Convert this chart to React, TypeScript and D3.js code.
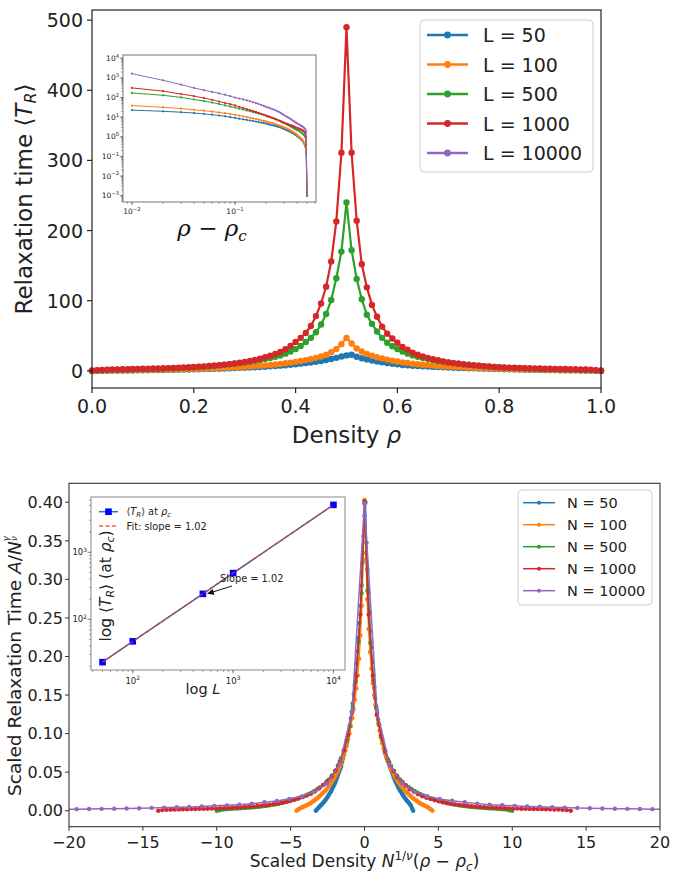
import React from 'react';
import * as d3 from 'd3';

// ---------- data ----------
const RHO_C = 0.5;
const INV_NU = 0.482;
const GAMMA_NU = 1.02;
const A_CONST = 0.94;
const RHO = d3.range(0, 101).map((i) => i / 100);

const SIZES = [50, 100, 500, 1000, 10000];
const COLORS = ['#1f77b4', '#ff7f0e', '#2ca02c', '#d62728', '#9467bd'];
const TOP_LABELS = ['L = 50', 'L = 100', 'L = 500', 'L = 1000', 'L = 10000'];
const BOT_LABELS = ['N = 50', 'N = 100', 'N = 500', 'N = 1000', 'N = 10000'];

const TR_L50 = [0, 0.08, 0.16, 0.24, 0.32, 0.4, 0.47, 0.55, 0.63, 0.72,
  0.82, 0.92, 1.02, 1.14, 1.26, 1.38, 1.5, 1.65, 1.8, 1.95,
  2.1, 2.3, 2.5, 2.7, 2.9, 3.1, 3.3, 3.6, 3.9, 4.2,
  4.5, 4.8, 5.1, 5.5, 5.9, 6.4, 6.9, 7.4, 8.0, 8.7,
  9.4, 10.2, 11, 11.9, 12.9, 14, 15.3, 16.8, 18.5, 20.5,
  22,
  23, 20, 18, 16.3, 14.8, 13.4, 12.2, 11.1, 10.1, 9.2,
  8.4, 7.8, 7.3, 6.8, 6.4, 6.0, 5.6, 5.3, 5.0, 4.7,
  4.4, 4.1, 3.9, 3.7, 3.5, 3.3, 3.1, 2.9, 2.7, 2.5,
  2.3, 2.15, 2.0, 1.85, 1.7, 1.58, 1.46, 1.34, 1.22, 1.1,
  1.0, 0.9, 0.8, 0.72, 0.64, 0.55, 0.45, 0.35, 0.15, 0];

const TR_L100 = [0, 0.15, 0.3, 0.4, 0.5, 0.6, 0.7, 0.8, 0.9, 1.0,
  1.1, 1.25, 1.4, 1.55, 1.7, 1.85, 2.0, 2.2, 2.4, 2.6,
  2.8, 3.0, 3.2, 3.5, 3.8, 4.1, 4.4, 4.7, 5.0, 5.4,
  5.8, 6.2, 6.7, 7.2, 7.8, 8.4, 9.1, 9.9, 10.8, 11.7,
  12.8, 14, 15.3, 16.8, 18.5, 20.5, 23, 26.5, 31, 38,
  47,
  39, 32, 27.5, 24, 21.5, 19.3, 17.5, 16, 14.5, 13.2,
  12.1, 11.1, 10.2, 9.4, 8.7, 8.1, 7.5, 7.0, 6.5, 6.1,
  5.7, 5.3, 5.0, 4.6, 4.3, 4.0, 3.7, 3.5, 3.2, 3.0,
  2.8, 2.6, 2.4, 2.2, 2.0, 1.85, 1.7, 1.55, 1.4, 1.25,
  1.1, 1.0, 0.9, 0.8, 0.7, 0.6, 0.45, 0.3, 0.2, 0];

const TR_L500 = [0, 0.4, 0.9, 1.2, 1.35, 1.5, 1.65, 1.8, 1.95, 2.1,
  2.25, 2.4, 2.6, 2.8, 3.0, 3.3, 3.6, 3.9, 4.2, 4.6,
  5.0, 5.5, 6.0, 6.6, 7.2, 7.9, 8.6, 9.4, 10.2, 11,
  12, 13, 14.1, 15.4, 16.8, 18.3, 20, 22, 24.5, 27.5,
  31, 35.5, 41, 47, 55, 66, 81, 101, 132, 170,
  240,
  172, 131, 102, 80, 67, 56, 47, 40, 35, 31,
  27.5, 24.5, 22, 20, 18.3, 16.8, 15.4, 14.1, 13, 12,
  11, 10.2, 9.4, 8.6, 7.9, 7.2, 6.6, 6.0, 5.5, 5.0,
  4.6, 4.2, 3.9, 3.6, 3.3, 3.0, 2.8, 2.6, 2.4, 2.25,
  2.1, 1.95, 1.8, 1.65, 1.5, 1.35, 1.2, 1.0, 0.4, 0];

const TR_L1000 = [0, 1.0, 1.4, 1.7, 1.9, 2.1, 2.3, 2.4, 2.6, 2.7,
  2.9, 3.0, 3.2, 3.4, 3.7, 3.9, 4.1, 4.4, 4.8, 5.1,
  5.5, 5.9, 6.3, 6.8, 7.4, 8.1, 8.8, 9.6, 10.5, 11.5,
  12.7, 14, 15.6, 17.3, 19.3, 21.5, 24, 27, 31, 35.5,
  41, 47, 54, 64, 78, 96, 120, 156, 213, 311,
  490,
  311, 214, 152, 119, 94, 77, 63, 53, 46, 40,
  34, 30, 26, 23, 20.5, 18.5, 16.5, 15, 13.5, 12,
  11, 10, 9.2, 8.5, 7.8, 7.2, 6.6, 6.1, 5.6, 5.2,
  4.9, 4.6, 4.3, 4.0, 3.8, 3.6, 3.4, 3.2, 3.0, 2.9,
  2.7, 2.6, 2.5, 2.3, 2.2, 2.0, 1.8, 1.5, 1.0, 0];

const TR_L10000 = [0, 2.0, 2.5, 2.8, 3.1, 3.4, 3.6, 3.9, 4.2, 4.5,
  4.9, 5.3, 5.8, 6.4, 7.0, 7.8, 8.6, 9.5, 10.5, 11.5,
  12.6, 14.3, 16, 18, 20, 22, 24, 26, 28.5, 31,
  34, 38, 42, 47, 52, 58, 64, 72, 81, 89,
  101, 117, 141, 163, 197, 238, 315, 450, 770, 1640,
  5100,
  1660, 760, 457, 310, 240, 195, 165, 140, 118, 100,
  90, 81, 72, 65, 58, 52, 47, 42, 38, 34,
  31, 28.5, 26, 24, 22, 20, 18, 16, 14.3, 12.6,
  11.5, 10.5, 9.5, 8.6, 7.8, 7.0, 6.4, 5.8, 5.3, 4.9,
  4.5, 4.2, 3.9, 3.6, 3.4, 3.1, 2.8, 2.5, 2.0, 0];

const SERIES = [TR_L50, TR_L100, TR_L500, TR_L1000, TR_L10000];

const TOP_X_TICKS = [0, 0.2, 0.4, 0.6, 0.8, 1.0];
const TOP_Y_TICKS = [0, 100, 200, 300, 400, 500];
const BOT_X_TICKS = [-20, -15, -10, -5, 0, 5, 10, 15, 20];
const BOT_Y_TICKS = [0, 0.05, 0.1, 0.15, 0.2, 0.25, 0.3, 0.35, 0.4];
const SLOPE_TEXT = 'Slope = 1.02';
const FIT_TEXT = 'Fit: slope = 1.02';

// ---------- helpers ----------
const FONT = 'DejaVu Sans, Verdana, sans-serif';
const minus = (s: string) => s.replace('-', '\u2212');

function minorLogTicks(lo: number, hi: number) {
  const out: number[] = [];
  for (let k = Math.floor(Math.log10(lo)); k <= Math.ceil(Math.log10(hi)); k++) {
    for (let m = 1; m <= 9; m++) {
      const v = m * Math.pow(10, k);
      if (v >= lo && v <= hi) out.push(v);
    }
  }
  return out;
}
function majorLogTicks(lo: number, hi: number) {
  const out: number[] = [];
  for (let k = Math.ceil(Math.log10(lo) - 1e-9); k <= Math.floor(Math.log10(hi) + 1e-9); k++) out.push(k);
  return out;
}
function Pow10({ x, y, k, size, anchor }: any) {
  return (
    <text x={x} y={y} fontSize={size} textAnchor={anchor} fontFamily={FONT} fill="#222">
      10<tspan dy={-size * 0.42} fontSize={size * 0.7}>{minus(String(k))}</tspan>
    </text>
  );
}

export default function App() {
  const W = 683, H = 882;

  // ---- top main ----
  const tL = 92, tR = 601, tT = 10, tB = 388;
  const xT = d3.scaleLinear().domain([0, 1]).range([tL, tR]);
  const yT = d3.scaleLinear().domain([-24.5, 514.5]).range([tB, tT]);
  const topLine = d3.line<number>().x((d, i) => xT(RHO[i])).y((d) => yT(d));

  // ---- top inset ----
  const iL = 123, iR = 316, iT = 55, iB = 202;
  const xI = d3.scaleLog().domain([Math.pow(10, -2.087), Math.pow(10, -0.214)]).range([iL, iR]);
  const yI = d3.scaleLog().domain([Math.pow(10, -3.32), Math.pow(10, 4.17)]).range([iB, iT]);
  const insetData = SERIES.map((s) =>
    RHO.map((r, i) => [r - RHO_C, s[i]] as [number, number])
      .filter((d) => d[0] > 0.005)
      .map((d) => [d[0], Math.max(d[1], 1e-3)] as [number, number])
  );
  const insetLine = d3.line<[number, number]>().x((d) => xI(d[0])).y((d) => yI(d[1]));

  // ---- bottom main ----
  const bL = 69, bR = 660, bT = 483.3, bB = 826.7;
  const xB = d3.scaleLinear().domain([-20, 20]).range([bL, bR]);
  const yB = d3.scaleLinear().domain([-0.0207, 0.4246]).range([bB, bT]);
  const botData = SERIES.map((s, k) =>
    RHO.map((r, i) => [
      Math.pow(SIZES[k], INV_NU) * (r - RHO_C),
      (A_CONST * s[i]) / Math.pow(SIZES[k], GAMMA_NU),
    ] as [number, number])
  );
  const botLine = d3.line<[number, number]>().x((d) => xB(d[0])).y((d) => yB(d[1]));

  // ---- bottom inset ----
  const jL = 91, jR = 345, jT = 497, jB = 670;
  const peaks = SERIES.map((s) => d3.max(s) as number);
  const lx = SIZES.map((v) => Math.log10(v));
  const ly = peaks.map((v) => Math.log10(v));
  const lxSpan = d3.max(lx)! - d3.min(lx)!;
  const lySpan = d3.max(ly)! - d3.min(ly)!;
  const xJ = d3.scaleLog()
    .domain([Math.pow(10, d3.min(lx)! - 0.05 * lxSpan), Math.pow(10, d3.max(lx)! + 0.05 * lxSpan)])
    .range([jL, jR]);
  const yJ = d3.scaleLog()
    .domain([Math.pow(10, d3.min(ly)! - 0.05 * lySpan), Math.pow(10, d3.max(ly)! + 0.05 * lySpan)])
    .range([jB, jT]);
  const mx = d3.mean(lx)!, my = d3.mean(ly)!;
  const slope = d3.sum(lx.map((v, i) => (v - mx) * (ly[i] - my))) / d3.sum(lx.map((v) => (v - mx) ** 2));
  const icpt = my - slope * mx;
  const fitPts = [SIZES[0], SIZES[SIZES.length - 1]].map((L) => [L, Math.pow(10, icpt + slope * Math.log10(L))]);
  const arrowTip = [xJ(SIZES[2]) + 4, yJ(peaks[2])];
  const arrowFrom = [232, 586];
  const ang = Math.atan2(arrowTip[1] - arrowFrom[1], arrowTip[0] - arrowFrom[0]);
  const ah = 7, aw = 3;
  const headPts = [
    arrowTip,
    [arrowTip[0] - ah * Math.cos(ang) + aw * Math.sin(ang), arrowTip[1] - ah * Math.sin(ang) - aw * Math.cos(ang)],
    [arrowTip[0] - ah * Math.cos(ang) - aw * Math.sin(ang), arrowTip[1] - ah * Math.sin(ang) + aw * Math.cos(ang)],
  ];

  const axisCol = '#222';

  return (
    <svg width={W} height={H} style={{ position: 'absolute', left: 0, top: 0, background: '#fff' }} fontFamily={FONT}>
      <rect x={0} y={0} width={W} height={H} fill="#fff" />
      <defs>
        <clipPath id="botclip"><rect x={bL} y={bT} width={bR - bL} height={bB - bT} /></clipPath>
        <clipPath id="insclip"><rect x={iL} y={iT} width={iR - iL} height={iB - iT} /></clipPath>
      </defs>

      {/* ================= TOP MAIN ================= */}
      {[0, 1, 2, 3].map((k) => (
        <g key={'tm' + k}>
          <path d={topLine(SERIES[k]) || ''} fill="none" stroke={COLORS[k]} strokeWidth={2.2} />
          {SERIES[k].map((v, i) => (
            <circle key={i} cx={xT(RHO[i])} cy={yT(v)} r={3.2} fill={COLORS[k]} />
          ))}
        </g>
      ))}
      <rect x={tL} y={tT} width={tR - tL} height={tB - tT} fill="none" stroke={axisCol} strokeWidth={1.2} />
      {TOP_X_TICKS.map((t) => (
        <g key={'tx' + t}>
          <line x1={xT(t)} x2={xT(t)} y1={tB} y2={tB + 5} stroke={axisCol} strokeWidth={1.2} />
          <text x={xT(t)} y={tB + 25} fontSize={19} textAnchor="middle" fill="#222">{t.toFixed(1)}</text>
        </g>
      ))}
      {TOP_Y_TICKS.map((t) => (
        <g key={'ty' + t}>
          <line x1={tL - 5} x2={tL} y1={yT(t)} y2={yT(t)} stroke={axisCol} strokeWidth={1.2} />
          <text x={tL - 9} y={yT(t) + 7} fontSize={19} textAnchor="end" fill="#222">{t}</text>
        </g>
      ))}
      <text x={(tL + tR) / 2} y={443} fontSize={23} textAnchor="middle" fill="#222">
        Density <tspan fontStyle="italic">ρ</tspan>
      </text>
      <text transform={`translate(32,${(tT + tB) / 2}) rotate(-90)`} fontSize={23} textAnchor="middle" fill="#222">
        Relaxation time ⟨<tspan fontStyle="italic">T</tspan>
        <tspan fontSize={16} dy={4} fontStyle="italic">R</tspan>
        <tspan dy={-4}>⟩</tspan>
      </text>

      {/* top legend */}
      <rect x={420} y={20} width={173} height={152} rx={4} fill="#fff" fillOpacity={0.8} stroke="#d0d0d0" strokeWidth={1} />
      {TOP_LABELS.map((lab, k) => {
        const yy = 35 + k * 29.5;
        return (
          <g key={'tl' + k}>
            <line x1={427} x2={468} y1={yy} y2={yy} stroke={COLORS[k]} strokeWidth={2.6} />
            <circle cx={447.5} cy={yy} r={3.4} fill={COLORS[k]} />
            <text x={483} y={yy + 7} fontSize={19} fill="#222">{lab}</text>
          </g>
        );
      })}

      {/* ================= TOP INSET ================= */}
      <rect x={iL} y={iT} width={iR - iL} height={iB - iT} fill="#fff" />
      <g clipPath="url(#insclip)">
        {insetData.map((pts, k) => (
          <g key={'in' + k}>
            <path d={insetLine(pts) || ''} fill="none" stroke={COLORS[k]} strokeWidth={1} />
            {pts.map((d, i) => (
              <circle key={i} cx={xI(d[0])} cy={yI(d[1])} r={1.1} fill={COLORS[k]} />
            ))}
          </g>
        ))}
      </g>
      <rect x={iL} y={iT} width={iR - iL} height={iB - iT} fill="none" stroke="#555" strokeWidth={0.8} />
      {minorLogTicks(xI.domain()[0], xI.domain()[1]).map((v, i) => (
        <line key={'ixm' + i} x1={xI(v)} x2={xI(v)} y1={iB} y2={iB + 1.8} stroke="#555" strokeWidth={0.6} />
      ))}
      {majorLogTicks(xI.domain()[0], xI.domain()[1]).map((k) => (
        <g key={'ixM' + k}>
          <line x1={xI(Math.pow(10, k))} x2={xI(Math.pow(10, k))} y1={iB} y2={iB + 3.2} stroke="#555" strokeWidth={0.7} />
          <Pow10 x={xI(Math.pow(10, k))} y={iB + 12} k={k} size={7.5} anchor="middle" />
        </g>
      ))}
      {minorLogTicks(yI.domain()[0], yI.domain()[1]).map((v, i) => (
        <line key={'iym' + i} x1={iL - 1.8} x2={iL} y1={yI(v)} y2={yI(v)} stroke="#555" strokeWidth={0.6} />
      ))}
      {majorLogTicks(yI.domain()[0], yI.domain()[1]).map((k) => (
        <g key={'iyM' + k}>
          <line x1={iL - 3.2} x2={iL} y1={yI(Math.pow(10, k))} y2={yI(Math.pow(10, k))} stroke="#555" strokeWidth={0.7} />
          <Pow10 x={iL - 4} y={yI(Math.pow(10, k)) + 2.5} k={k} size={7.5} anchor="end" />
        </g>
      ))}
      <text x={212} y={236} fontSize={23} textAnchor="middle" fontFamily="DejaVu Serif, serif" fontStyle="italic" fill="#111">
        ρ <tspan fontStyle="normal">−</tspan> ρ<tspan fontSize={15} dy={5}>c</tspan>
      </text>

      {/* ================= BOTTOM MAIN ================= */}
      <g clipPath="url(#botclip)">
        {botData.map((pts, k) => (
          <g key={'bm' + k}>
            <path d={botLine(pts) || ''} fill="none" stroke={COLORS[k]} strokeWidth={1.5} />
            {pts.map((d, i) => (
              <circle key={i} cx={xB(d[0])} cy={yB(d[1])} r={2.2} fill={COLORS[k]} />
            ))}
          </g>
        ))}
      </g>
      <rect x={bL} y={bT} width={bR - bL} height={bB - bT} fill="none" stroke="#333" strokeWidth={1.1} />
      {BOT_X_TICKS.map((t) => (
        <g key={'bx' + t}>
          <line x1={xB(t)} x2={xB(t)} y1={bB} y2={bB + 4} stroke="#333" strokeWidth={1} />
          <text x={xB(t)} y={bB + 21} fontSize={16} textAnchor="middle" fill="#222">{minus(String(t))}</text>
        </g>
      ))}
      {BOT_Y_TICKS.map((t) => (
        <g key={'by' + t}>
          <line x1={bL - 4} x2={bL} y1={yB(t)} y2={yB(t)} stroke="#333" strokeWidth={1} />
          <text x={bL - 6} y={yB(t) + 5.7} fontSize={16} textAnchor="end" fill="#222">{t.toFixed(2)}</text>
        </g>
      ))}
      <text x={(bL + bR) / 2} y={867} fontSize={17} textAnchor="middle" fill="#222">
        Scaled Density <tspan fontStyle="italic">N</tspan>
        <tspan fontSize={12} dy={-7}>1/</tspan><tspan fontSize={12} fontStyle="italic">ν</tspan>
        <tspan dy={7}>(</tspan><tspan fontStyle="italic">ρ</tspan> − <tspan fontStyle="italic">ρ</tspan>
        <tspan fontSize={12} dy={4} fontStyle="italic">c</tspan><tspan dy={-4}>)</tspan>
      </text>
      <text transform={`translate(21,666) rotate(-90)`} fontSize={18.5} textAnchor="middle" fill="#222">
        Scaled Relaxation Time <tspan fontStyle="italic">A</tspan>/<tspan fontStyle="italic">N</tspan>
        <tspan fontSize={8.5} dy={-12} fontStyle="italic">γ</tspan>
        <tspan fontSize={8.5} dx={-4.8} dy={7.5} fontStyle="italic">ν</tspan>
      </text>

      {/* bottom legend */}
      <rect x={518} y={490} width={134} height={115} rx={4} fill="#fff" fillOpacity={0.8} stroke="#d0d0d0" strokeWidth={1} />
      {BOT_LABELS.map((lab, k) => {
        const yy = 502.7 + k * 22;
        return (
          <g key={'bl' + k}>
            <line x1={523} x2={555} y1={yy} y2={yy} stroke={COLORS[k]} strokeWidth={1.5} />
            <circle cx={539} cy={yy} r={2} fill={COLORS[k]} />
            <text x={567} y={yy + 5.3} fontSize={14.5} fill="#222">{lab}</text>
          </g>
        );
      })}

      {/* ================= BOTTOM INSET ================= */}
      <rect x={jL} y={jT} width={jR - jL} height={jB - jT} fill="#fff" stroke="#888" strokeWidth={1} />
      <path d={d3.line<number>().x((d, i) => xJ(SIZES[i])).y((d) => yJ(d))(peaks) || ''} fill="none" stroke="#1f77b4" strokeWidth={1.5} />
      {peaks.map((p, i) => (
        <rect key={'sq' + i} x={xJ(SIZES[i]) - 3.3} y={yJ(p) - 3.3} width={6.6} height={6.6} fill="#0000ff" />
      ))}
      <line x1={xJ(fitPts[0][0])} y1={yJ(fitPts[0][1])} x2={xJ(fitPts[1][0])} y2={yJ(fitPts[1][1])}
        stroke="#ff3030" strokeOpacity={0.8} strokeWidth={1.5} strokeDasharray="4,2.5" />
      {minorLogTicks(xJ.domain()[0], xJ.domain()[1]).map((v, i) => (
        <line key={'jxm' + i} x1={xJ(v)} x2={xJ(v)} y1={jB} y2={jB + 2} stroke="#666" strokeWidth={0.6} />
      ))}
      {majorLogTicks(xJ.domain()[0], xJ.domain()[1]).map((k) => (
        <g key={'jxM' + k}>
          <line x1={xJ(Math.pow(10, k))} x2={xJ(Math.pow(10, k))} y1={jB} y2={jB + 3.5} stroke="#666" strokeWidth={0.8} />
          <Pow10 x={xJ(Math.pow(10, k))} y={jB + 14} k={k} size={8.5} anchor="middle" />
        </g>
      ))}
      {minorLogTicks(yJ.domain()[0], yJ.domain()[1]).map((v, i) => (
        <line key={'jym' + i} x1={jL - 2} x2={jL} y1={yJ(v)} y2={yJ(v)} stroke="#666" strokeWidth={0.6} />
      ))}
      {majorLogTicks(yJ.domain()[0], yJ.domain()[1]).map((k) => (
        <g key={'jyM' + k}>
          <line x1={jL - 3.5} x2={jL} y1={yJ(Math.pow(10, k))} y2={yJ(Math.pow(10, k))} stroke="#666" strokeWidth={0.8} />
          <Pow10 x={jL - 4} y={yJ(Math.pow(10, k)) + 3} k={k} size={8.5} anchor="end" />
        </g>
      ))}
      <text x={(jL + jR) / 2 - 15} y={694} fontSize={14.5} textAnchor="middle" fill="#222">
        log <tspan fontStyle="italic">L</tspan>
      </text>
      <text transform={`translate(111,586) rotate(-90)`} fontSize={15.5} textAnchor="middle" fill="#222">
        log ⟨<tspan fontStyle="italic">T</tspan><tspan fontSize={11} dy={3} fontStyle="italic">R</tspan>
        <tspan dy={-3}>⟩ (at </tspan><tspan fontStyle="italic">ρ</tspan>
        <tspan fontSize={11} dy={3} fontStyle="italic">c</tspan><tspan dy={-3}>)</tspan>
      </text>
      {/* inset legend */}
      <line x1={99} x2={118} y1={511.7} y2={511.7} stroke="#1f77b4" strokeWidth={1.5} />
      <rect x={105.2} y={508.4} width={6.6} height={6.6} fill="#0000ff" />
      <text x={126.5} y={515.3} fontSize={9.8} fill="#222">
        ⟨<tspan fontStyle="italic">T</tspan><tspan fontSize={7} dy={2} fontStyle="italic">R</tspan>
        <tspan dy={-2}>⟩ at </tspan><tspan fontStyle="italic">ρ</tspan><tspan fontSize={7} dy={2} fontStyle="italic">c</tspan>
      </text>
      <line x1={99} x2={118} y1={526} y2={526} stroke="#ff3030" strokeOpacity={0.8} strokeWidth={1.5} strokeDasharray="4,2.5" />
      <text x={126.5} y={529.5} fontSize={9.8} fill="#222">{FIT_TEXT}</text>
      {/* annotation */}
      <text x={220} y={581.5} fontSize={9.8} fill="#222">{SLOPE_TEXT}</text>
      <line x1={arrowFrom[0]} y1={arrowFrom[1]} x2={headPts[0][0] - 5 * Math.cos(ang)} y2={headPts[0][1] - 5 * Math.sin(ang)} stroke="#111" strokeWidth={1} />
      <polygon points={headPts.map((p) => p.join(',')).join(' ')} fill="#111" />
    </svg>
  );
}
